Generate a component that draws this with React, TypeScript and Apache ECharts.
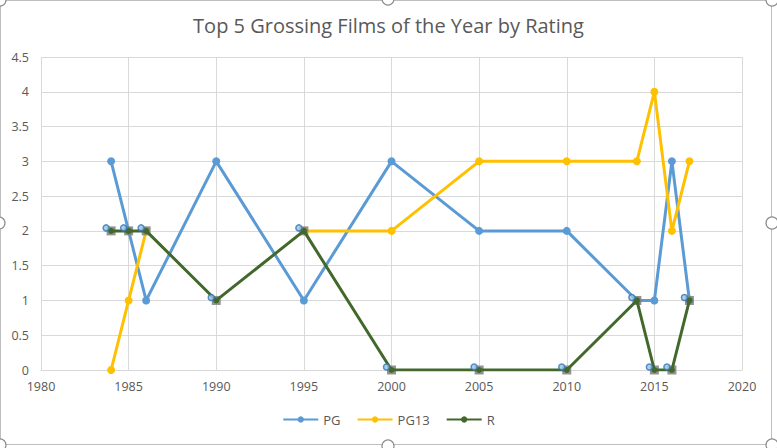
import React, { useEffect, useRef } from "react";
import * as echarts from "echarts";

const years = [1984, 1985, 1986, 1990, 1995, 2000, 2005, 2010, 2014, 2015, 2016, 2017];
const pgValues = [3, 2, 1, 3, 1, 3, 2, 2, 1, 1, 3, 1];
const pg13Values: (number | null)[] = [0, 1, 2, null, 2, 2, 3, 3, 3, 4, 2, 3];
const rValues = [2, 2, 2, 1, 2, 0, 0, 0, 1, 0, 0, 1];
const yTicks = [0, 0.5, 1, 1.5, 2, 2.5, 3, 3.5, 4, 4.5];
const xTicks = [1980, 1985, 1990, 1995, 2000, 2005, 2010, 2015, 2020];

const pair = (vals: (number | null)[]) => years.map((y, i) => [y, vals[i]]);

export default function App() {
  const ref = useRef<HTMLDivElement>(null);
  useEffect(() => {
    if (!ref.current) return;
    const chart = echarts.init(ref.current, undefined, { renderer: "svg" });
    const font = "'Open Sans', 'Liberation Sans', sans-serif";
    const labelStyle = { color: "#595959", fontSize: 12.5, fontFamily: font };
    const handleColor = "#bfbfbf";
    chart.setOption({
      animation: false,
      backgroundColor: "#ffffff",
      title: {
        text: "Top 5 Grossing Films of the Year by Rating",
        left: "center",
        top: 10,
        textStyle: { color: "#595959", fontSize: 20, fontWeight: "normal", fontFamily: font },
      },
      grid: { left: 41, right: 35, top: 57, bottom: 78 },
      legend: {
        data: ["PG", "PG13", "R"],
        bottom: 17,
        left: "center",
        itemWidth: 35,
        itemHeight: 8,
        itemGap: 16,
        textStyle: { ...labelStyle, fontSize: 13 },
      },
      xAxis: {
        type: "value",
        min: xTicks[0],
        max: xTicks[xTicks.length - 1],
        interval: 5,
        axisLine: { show: true, lineStyle: { color: "#d9d9d9" } },
        axisTick: { show: false },
        axisLabel: { ...labelStyle, margin: 10, formatter: (v: number) => String(v) },
        splitLine: { show: true, lineStyle: { color: "#d9d9d9" } },
      },
      yAxis: {
        type: "value",
        min: yTicks[0],
        max: yTicks[yTicks.length - 1],
        interval: 0.5,
        axisLine: { show: false },
        axisTick: { show: false },
        axisLabel: { ...labelStyle, margin: 12 },
        splitLine: { show: true, lineStyle: { color: "#d9d9d9" } },
      },
      series: [
        {
          name: "PG",
          type: "line",
          data: pair(pgValues),
          symbol: "circle",
          symbolSize: 8,
          lineStyle: { color: "#5B9BD5", width: 3 },
          itemStyle: { color: "#5B9BD5" },
          z: 2,
        },
        {
          name: "PG13",
          type: "line",
          data: pair(pg13Values),
          connectNulls: false,
          symbol: "circle",
          symbolSize: 8,
          lineStyle: { color: "#FFC000", width: 3 },
          itemStyle: { color: "#FFC000" },
          z: 3,
        },
        {
          name: "R-select",
          type: "scatter",
          data: pair(rValues),
          symbol: "rect",
          symbolSize: 9,
          itemStyle: { color: "#7f7f7f", opacity: 0.85 },
          z: 4,
          silent: true,
        },
        {
          name: "R",
          type: "line",
          data: pair(rValues),
          symbol: "circle",
          symbolSize: 6,
          lineStyle: { color: "#43682B", width: 3 },
          itemStyle: { color: "#43682B" },
          z: 5,
        },
        {
          name: "R-handle",
          type: "scatter",
          data: pair(rValues),
          symbol: "circle",
          symbolSize: 6,
          symbolOffset: [-5, -3],
          itemStyle: { color: "#9dc3e6", borderColor: "#2e75b6", borderWidth: 1.5 },
          z: 6,
          silent: true,
        },
      ],
      graphic: [
        {
          type: "rect",
          shape: { x: 0.5, y: 0.5, width: 771, height: 444 },
          style: { fill: "none", stroke: handleColor, lineWidth: 1 },
          silent: true,
        },
        ...[
          [0, 0],
          [388, -1],
          [772, 0],
          [-1, 223],
          [772, 223],
          [0, 445],
          [388, 446],
          [772, 445],
        ].map(([cx, cy]) => ({
          type: "circle",
          shape: { cx, cy, r: 6 },
          style: { fill: "#ffffff", stroke: "#8c8c8c", lineWidth: 1.2 },
          silent: true,
        })),
      ],
    });
    return () => chart.dispose();
  }, []);
  return (
    <div
      ref={ref}
      style={{ position: "fixed", left: 0, top: 0, width: 777, height: 448 }}
    />
  );
}
